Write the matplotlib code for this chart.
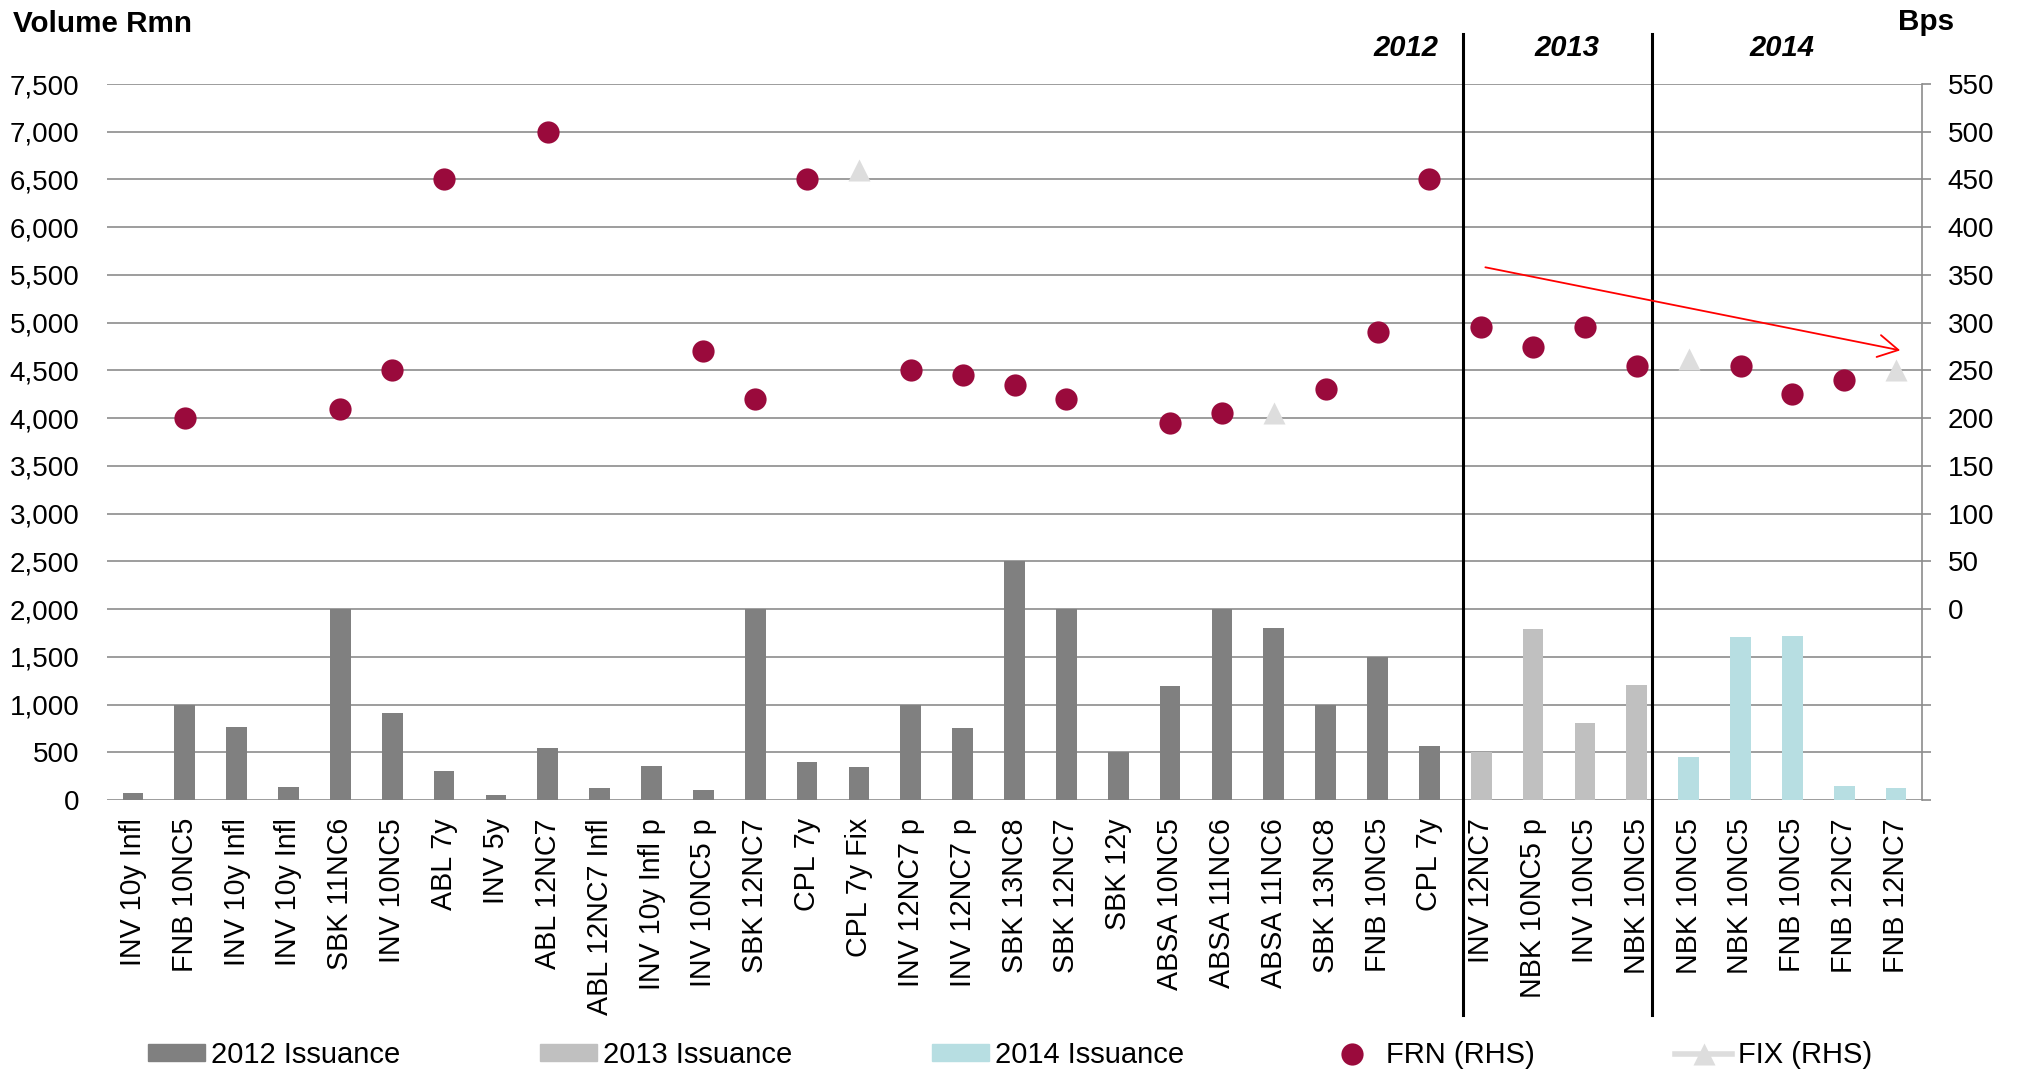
import numpy as np
import matplotlib
matplotlib.use("Agg")
import matplotlib.pyplot as plt
from matplotlib.lines import Line2D
from matplotlib.patches import Patch
from matplotlib.ticker import FuncFormatter
from matplotlib.transforms import blended_transform_factory

plt.rcParams['font.family'] = ['Liberation Sans', 'DejaVu Sans']
plt.rcParams['font.size'] = 20

# --- data -------------------------------------------------------------
labels_2012 = ['INV 10y Infl', 'FNB 10NC5', 'INV 10y Infl', 'INV 10y Infl', 'SBK 11NC6',
               'INV 10NC5', 'ABL 7y', 'INV 5y', 'ABL 12NC7', 'ABL 12NC7 Infl',
               'INV 10y Infl p', 'INV 10NC5 p', 'SBK 12NC7', 'CPL 7y', 'CPL 7y Fix',
               'INV 12NC7 p', 'INV 12NC7 p', 'SBK 13NC8', 'SBK 12NC7', 'SBK 12y',
               'ABSA 10NC5', 'ABSA 11NC6', 'ABSA 11NC6', 'SBK 13NC8', 'FNB 10NC5', 'CPL 7y']
labels_2013 = ['INV 12NC7', 'NBK 10NC5 p', 'INV 10NC5', 'NBK 10NC5']
labels_2014 = ['NBK 10NC5', 'NBK 10NC5', 'FNB 10NC5', 'FNB 12NC7', 'FNB 12NC7']

issue_2012 = [70, 1000, 760, 140, 2000, 910, 300, 55, 540, 130, 360, 100, 2000,
              400, 350, 1000, 750, 2500, 2000, 500, 1190, 2000, 1800, 1000, 1500, 570]
issue_2013 = [500, 1790, 810, 1200]
issue_2014 = [450, 1710, 1720, 145, 125]

nan = np.nan
# spreads in bps (RHS), one per issue, nan where the issue is not of that type
frn_bps = [nan, 200, nan, nan, 210, 250, 450, nan, 500, nan, nan, 270, 220,
           450, nan, 250, 245, 235, 220, nan, 195, 205, nan, 230, 290, 450,
           295, 275, 295, 255,
           nan, 255, 225, 240, nan]
fix_bps = [nan] * 14 + [460] + [nan] * 7 + [205] + [nan] * 3 + \
          [nan, nan, nan, nan] + [262, nan, nan, nan, 250]

years = ['2012', '2013', '2014']
year_label_x = [24.55, 27.65, 31.8]   # where the year titles sit
year_breaks = [25.65, 29.29]          # hand drawn dividers
trend_start = (26.08, 358)
trend_end = (34.08, 271)

categories = labels_2012 + labels_2013 + labels_2014
n12, n13, n14 = len(issue_2012), len(issue_2013), len(issue_2014)
x12 = np.arange(n12)
x13 = np.arange(n12, n12 + n13)
x14 = np.arange(n12 + n13, n12 + n13 + n14)
x_all = np.arange(len(categories))

# colours
C12 = '#808080'
C13 = '#C0C0C0'
C14 = '#B7DEE2'
C_FRN = '#9A0A3C'
C_FIX = '#DDDDDD'
GRID = '#8C8C8C'

# --- figure -----------------------------------------------------------
fig = plt.figure(figsize=(20.18, 10.79), dpi=100)
ax = fig.add_axes([107 / 2018, 1 - 800 / 1079, (1922 - 107) / 2018, (800 - 84) / 1079])

ax.bar(x12, issue_2012, width=0.4, color=C12, zorder=2)
ax.bar(x13, issue_2013, width=0.4, color=C13, zorder=2)
ax.bar(x14, issue_2014, width=0.4, color=C14, zorder=2)

ax.set_xlim(-0.5, len(categories) - 0.5)
ax.set_ylim(0, 7500)
ax.set_yticks(np.arange(0, 7501, 500))
ax.yaxis.set_major_formatter(FuncFormatter(lambda v, p: f'{v:,.0f}'))
ax.set_xticks(x_all)
ax.set_xticklabels(categories, rotation=90, va='top', ha='center', fontsize=20.6)
ax.tick_params(axis='x', length=0, pad=13)
ax.tick_params(axis='y', length=0, pad=20)
ax.yaxis.grid(True, color=GRID, lw=1.2)
ax.set_axisbelow(True)
for s in ax.spines.values():
    s.set_visible(False)

# right hand axis (bps)
ax2 = ax.twinx()
ax2.set_ylim(-200, 550)
ax2.set_yticks(np.arange(-200, 551, 50))
ax2.yaxis.set_major_formatter(FuncFormatter(lambda v, p: f'{v:.0f}' if v >= 0 else ''))
ax2.tick_params(axis='y', length=6.5, width=1.2, color=GRID, pad=12)
for k in ['left', 'top', 'bottom']:
    ax2.spines[k].set_visible(False)
ax2.spines['right'].set_color(GRID)
ax2.spines['right'].set_linewidth(1.2)

ax2.plot(x_all, frn_bps, 'o', color=C_FRN, ms=16, mec='none', zorder=3)
ax2.plot(x_all, fix_bps, '^', color=C_FIX, ms=16, mec='none', zorder=3)

ax2.annotate('', xy=trend_end, xytext=trend_start,
             arrowprops=dict(arrowstyle='->,head_length=0.72,head_width=0.4',
                             color='red', lw=1.3, shrinkA=0, shrinkB=0,
                             mutation_scale=20))

# year dividers, running from the top title down into the labels
tr = blended_transform_factory(ax.transData, fig.transFigure)
for xb in year_breaks:
    ax.plot([xb, xb], [1 - 34 / 1079, 1 - 1015 / 1079], color='black', lw=2.2,
            transform=tr, clip_on=False, zorder=5)
for yr, xl in zip(years, year_label_x):
    ax.text(xl, 1 - 56 / 1079, yr, transform=tr, ha='center', va='baseline',
            fontsize=21, fontweight='bold', fontstyle='italic')

fig.text(13 / 2018, 1 - 32 / 1079, 'Volume Rmn', fontsize=21.3, fontweight='bold',
         ha='left', va='baseline')
fig.text(1898 / 2018, 1 - 30 / 1079, 'Bps', fontsize=21.3, fontweight='bold',
         ha='left', va='baseline')

handles = [Patch(color=C12, label='2012 Issuance'),
           Patch(color=C13, label='2013 Issuance'),
           Patch(color=C14, label='2014 Issuance'),
           Line2D([], [], ls='none', marker='o', ms=16, color=C_FRN, mec='none', label='FRN (RHS)'),
           Line2D([], [], ls='-', lw=4, marker='^', ms=16, color=C_FIX, mec='none', label='FIX (RHS)')]
fig.legend(handles=handles, loc='center left', bbox_to_anchor=(148 / 2018, 1 - 1055 / 1079),
           ncol=5, frameon=False, borderpad=0, borderaxespad=0, handlelength=1.95,
           handleheight=0.51, handletextpad=0.2, columnspacing=4.8, fontsize=21)

fig.savefig('out.png', dpi=100)
